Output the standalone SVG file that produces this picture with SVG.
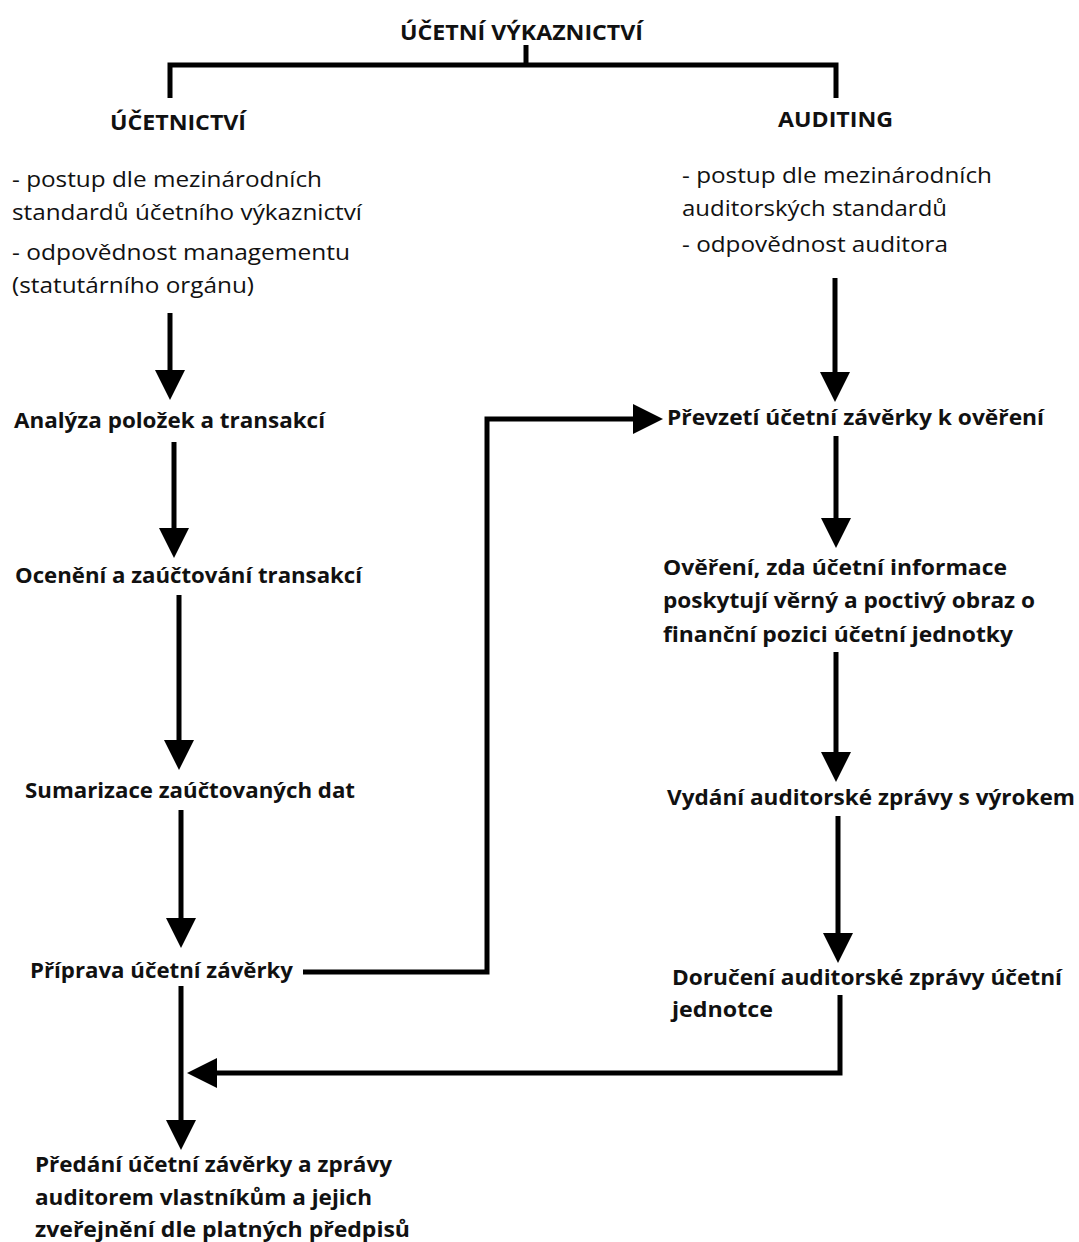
<svg xmlns="http://www.w3.org/2000/svg" width="1079" height="1242" viewBox="0 0 1079 1242">
<style>
text { font-family: "Open Sans", "Noto Sans", "Liberation Sans", sans-serif; font-size: 22px; fill: #111; }
.b { font-weight: 700; }
.conn { fill: none; stroke: #000; stroke-width: 5; }
</style>
<defs>
<marker id="ah" viewBox="0 0 30 30" markerWidth="30" markerHeight="30" refX="20" refY="15" orient="auto" markerUnits="userSpaceOnUse">
<polygon points="0,0 30,15 0,30" fill="#000"/>
</marker>
</defs>
<rect width="1079" height="1242" fill="#fff"/>

<g id="connectors">
<path class="conn" d="M526 45 V65"/>
<path class="conn" d="M170 98 V65 H836 V98"/>
<path class="conn" d="M170 313 V390" marker-end="url(#ah)"/>
<path class="conn" d="M174 442 V548" marker-end="url(#ah)"/>
<path class="conn" d="M179 595 V760" marker-end="url(#ah)"/>
<path class="conn" d="M181 810 V938" marker-end="url(#ah)"/>
<path class="conn" d="M181 986 V1140" marker-end="url(#ah)"/>
<path class="conn" d="M835 278 V392" marker-end="url(#ah)"/>
<path class="conn" d="M836 436 V538" marker-end="url(#ah)"/>
<path class="conn" d="M836 652 V772" marker-end="url(#ah)"/>
<path class="conn" d="M838 816 V953" marker-end="url(#ah)"/>
<path class="conn" d="M303 972 H487 V419 H653" marker-end="url(#ah)"/>
<path class="conn" d="M840 995 V1073 H197" marker-end="url(#ah)"/>
</g>

<g id="title"><text class="b" x="400" y="40" textLength="243" lengthAdjust="spacingAndGlyphs">ÚČETNÍ VÝKAZNICTVÍ</text></g>
<g id="ucetnictvi"><text class="b" x="110" y="130" textLength="136" lengthAdjust="spacingAndGlyphs">ÚČETNICTVÍ</text></g>
<g id="auditing"><text class="b" x="778" y="127" textLength="115" lengthAdjust="spacingAndGlyphs">AUDITING</text></g>

<g id="ucetnictvi-notes">
<text x="12" y="187" textLength="310" lengthAdjust="spacingAndGlyphs">- postup dle mezinárodních</text>
<text x="12" y="220" textLength="350" lengthAdjust="spacingAndGlyphs">standardů účetního výkaznictví</text>
<text x="12" y="260" textLength="338" lengthAdjust="spacingAndGlyphs">- odpovědnost managementu</text>
<text x="12" y="293" textLength="242" lengthAdjust="spacingAndGlyphs">(statutárního orgánu)</text>
</g>
<g id="auditing-notes">
<text x="682" y="183" textLength="310" lengthAdjust="spacingAndGlyphs">- postup dle mezinárodních</text>
<text x="682" y="216" textLength="265" lengthAdjust="spacingAndGlyphs">auditorských standardů</text>
<text x="682" y="252" textLength="266" lengthAdjust="spacingAndGlyphs">- odpovědnost auditora</text>
</g>

<g id="analyza"><text class="b" x="14" y="428" textLength="311" lengthAdjust="spacingAndGlyphs">Analýza položek a transakcí</text></g>
<g id="oceneni"><text class="b" x="15" y="583" textLength="347" lengthAdjust="spacingAndGlyphs">Ocenění a zaúčtování transakcí</text></g>
<g id="sumarizace"><text class="b" x="25" y="798" textLength="330" lengthAdjust="spacingAndGlyphs">Sumarizace zaúčtovaných dat</text></g>
<g id="priprava"><text class="b" x="30" y="978" textLength="263" lengthAdjust="spacingAndGlyphs">Příprava účetní závěrky</text></g>
<g id="predani">
<text class="b" x="35" y="1172" textLength="357" lengthAdjust="spacingAndGlyphs">Předání účetní závěrky a zprávy</text>
<text class="b" x="35" y="1205" textLength="337" lengthAdjust="spacingAndGlyphs">auditorem vlastníkům a jejich</text>
<text class="b" x="35" y="1237" textLength="375" lengthAdjust="spacingAndGlyphs">zveřejnění dle platných předpisů</text>
</g>

<g id="prevzeti"><text class="b" x="667" y="425" textLength="377" lengthAdjust="spacingAndGlyphs">Převzetí účetní závěrky k ověření</text></g>
<g id="overeni">
<text class="b" x="663" y="575" textLength="344" lengthAdjust="spacingAndGlyphs">Ověření, zda účetní informace</text>
<text class="b" x="663" y="608" textLength="372" lengthAdjust="spacingAndGlyphs">poskytují věrný a poctivý obraz o</text>
<text class="b" x="663" y="642" textLength="350" lengthAdjust="spacingAndGlyphs">finanční pozici účetní jednotky</text>
</g>
<g id="vydani"><text class="b" x="667" y="805" textLength="408" lengthAdjust="spacingAndGlyphs">Vydání auditorské zprávy s výrokem</text></g>
<g id="doruceni">
<text class="b" x="672" y="985" textLength="390" lengthAdjust="spacingAndGlyphs">Doručení auditorské zprávy účetní</text>
<text class="b" x="672" y="1017" textLength="101" lengthAdjust="spacingAndGlyphs">jednotce</text>
</g>
</svg>
